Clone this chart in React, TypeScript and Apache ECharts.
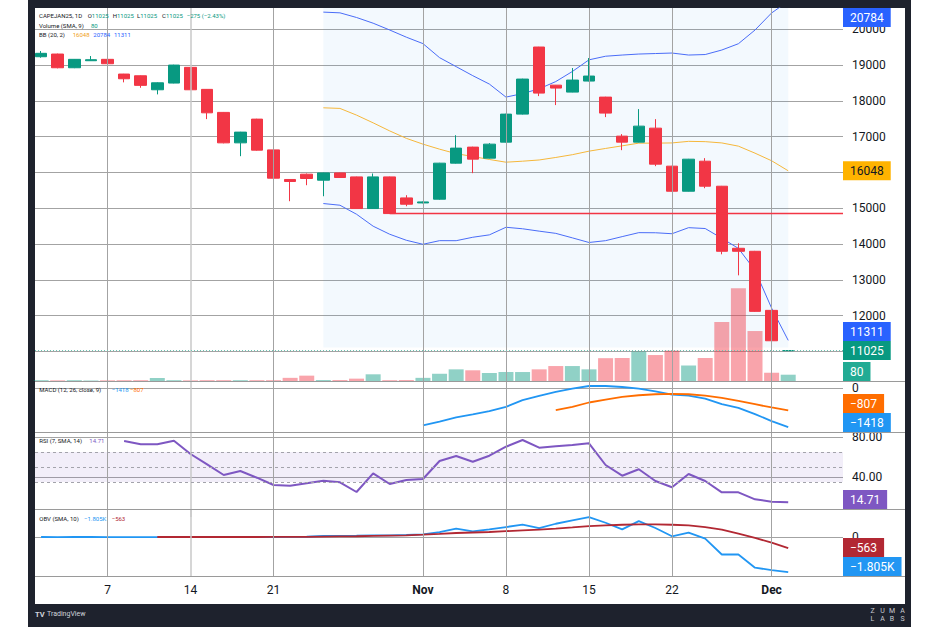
import React, { useEffect, useRef } from "react";
import * as echarts from "echarts";

// ---------- data ----------
const dates = [
  "2024-10-01", "2024-10-02", "2024-10-03", "2024-10-04",
  "2024-10-07", "2024-10-08", "2024-10-09", "2024-10-10", "2024-10-11",
  "2024-10-14", "2024-10-15", "2024-10-16", "2024-10-17", "2024-10-18",
  "2024-10-21", "2024-10-22", "2024-10-23", "2024-10-24", "2024-10-25",
  "2024-10-28", "2024-10-29", "2024-10-30", "2024-10-31", "2024-11-01",
  "2024-11-04", "2024-11-05", "2024-11-06", "2024-11-07", "2024-11-08",
  "2024-11-11", "2024-11-12", "2024-11-13", "2024-11-14", "2024-11-15",
  "2024-11-18", "2024-11-19", "2024-11-20", "2024-11-21", "2024-11-22",
  "2024-11-25", "2024-11-26", "2024-11-27", "2024-11-28", "2024-11-29",
  "2024-12-02", "2024-12-03",
];
const opens = [19234, 19309, 18926, 19122, 19161, 18750, 18702, 18311, 18498, 18937, 18322, 17679, 16828, 17491, 16632, 15805, 15953, 15785, 15989, 15877, 14993, 15877, 15290, 15150, 15254, 16261, 16709, 16401, 16848, 17631, 19505, 18440, 18246, 18554, 18106, 17016, 16848, 17239, 16177, 15477, 16316, 15617, 13883, 13799, 12149, 11025];
const closes = [19329, 18926, 19161, 19150, 19038, 18618, 18434, 18506, 19001, 18311, 17667, 16828, 17128, 16624, 15841, 15749, 15832, 15989, 15860, 14993, 15877, 14853, 15114, 15178, 16261, 16681, 16373, 16792, 17631, 18610, 18218, 18358, 18582, 18694, 17659, 16848, 17295, 16233, 15477, 16372, 15617, 13799, 13799, 12121, 11300, 11025];
const lows = [19206, 18910, 18915, 19115, 18741, 18518, 18367, 18182, 18490, 18300, 17491, 16815, 16456, 16610, 15830, 15198, 15645, 15337, 15850, 14985, 14985, 14840, 15058, 15140, 15240, 16250, 15981, 16390, 16840, 17620, 18134, 17883, 18240, 18545, 17547, 16624, 16840, 16177, 15470, 15470, 15561, 13715, 13128, 12110, 11114, 11025];
const highs = [19393, 19320, 19170, 19253, 19165, 18755, 18710, 18518, 19010, 18945, 18330, 17690, 17136, 17500, 16640, 15812, 15972, 15995, 15995, 15885, 15972, 15885, 15366, 15190, 16270, 17041, 16720, 16820, 17640, 18620, 19510, 18445, 18918, 19197, 18115, 17072, 17771, 17491, 16185, 16380, 16401, 15625, 14023, 13810, 12160, 11025];
const volumes = [10, 8, 10, 6, 8, 8, 10, 38, 10, 8, 10, 10, 10, 10, 10, 40, 68, 12, 12, 30, 85, 10, 12, 40, 92, 148, 136, 102, 114, 114, 148, 190, 190, 148, 290, 292, 375, 330, 387, 197, 292, 750, 1180, 635, 105, 80];

const bbStart = 17;
const bbUpper = [20480, 20460, 20330, 20170, 19980, 19780, 19600, 19208, 18957, 18705, 18470, 18106, 18204, 18338, 18540, 18822, 19147, 19248, 19281, 19309, 19323, 19337, 19281, 19295, 19421, 19597, 19980, 20456, 20784];
const bbBasis = [17807, 17790, 17603, 17387, 17161, 16954, 16792, 16652, 16526, 16448, 16364, 16288, 16316, 16350, 16420, 16498, 16596, 16672, 16745, 16820, 16820, 16826, 16870, 16862, 16826, 16736, 16540, 16328, 16048];
const bbLower = [15133, 15086, 14834, 14500, 14275, 14107, 13995, 14096, 14095, 14191, 14258, 14470, 14428, 14362, 14300, 14174, 14045, 14096, 14209, 14320, 14317, 14290, 14459, 14435, 14163, 13880, 13268, 12212, 11311];

const macdStart = 23;
const macdLine = [-1362, -1216, -1067, -958, -837, -680, -436, -280, -134, -11, 84, 84, 47, -11, -109, -230, -267, -376, -582, -716, -945, -1200, -1418];
const signalStart = 31;
const signalLine = [-800, -680, -520, -412, -316, -255, -218, -207, -218, -266, -353, -462, -582, -702, -807];

const rsiStart = 5;
const rsiValues = [76, 72.7, 72.7, 76.3, 63, 52.7, 42, 46, 39.3, 32, 31.3, 33.7, 36.3, 34.7, 25, 43.7, 33, 37, 38, 56, 61, 55.3, 61.3, 70.3, 77, 69.3, 70.7, 72, 73.7, 52, 41.3, 47.7, 36, 29.7, 43, 36, 24.7, 24.7, 17.7, 15.3, 14.71];
const rsiBands = [65, 50, 35];

const obvValues = [15, 12, 16, 18, 14, 12, 8, 14, 18, 15, 12, 10, 14, 12, 10, 20, 30, 70, 75, 80, 100, 100, 120, 155, 275, 447, 310, 413, 533, 654, 482, 705, 877, 1050, 757, 413, 843, 482, 52, 241, -69, -894, -894, -1582, -1703, -1805];
const obvSmaStart = 7;
const obvSma = [15, 15, 15, 15, 16, 16, 16, 18, 20, 25, 35, 45, 55, 70, 85, 100, 138, 180, 224, 250, 275, 318, 361, 404, 447, 515, 585, 620, 654, 670, 670, 654, 620, 533, 396, 190, -34, -275, -563];

const tickDates = ["2024-10-07", "2024-10-14", "2024-10-21", "2024-11-01", "2024-11-08", "2024-11-15", "2024-11-22", "2024-12-02"];
const tickLabels = ["7", "14", "21", "Nov", "8", "15", "22", "Dec"];
const monthLabels = ["Nov", "Dec"];

const priceTicks = [11000, 12000, 13000, 14000, 15000, 16000, 17000, 18000, 19000, 20000];
const macdTicks = [0];
const rsiTicks = [40, 80];
const obvTicks = [0];

const rayFromDate = "2024-10-30";
const shadeFromDate = "2024-10-24";
const shadeToDate = "2024-12-03";
const shadeLow = 11114;

// ---------- style ----------
const UP = "#089981";
const DOWN = "#f23645";
const VOL_UP = "rgba(8,153,129,0.45)";
const VOL_DOWN = "rgba(242,54,69,0.45)";
const GRID = "#a3a3a3";
const SEP = "#9a9a9a";
const TEXT = "#131722";
const FONT = "Roboto, 'Noto Sans', sans-serif";
const BLUE = "#2962ff";
const BB_MID = "#f5b73b";
const MACD_C = "#2196f3";
const SIG_C = "#ff6d00";
const RSI_C = "#7e57c2";
const OBV_C = "#2196f3";
const OBVSMA_C = "#b22833";

const X_MIN = -0.367;
const X_MAX = 48.3;
const PRICE_MIN = 10176;
const PRICE_MAX = 20595;
const VOL_MAX = 4740;

const fmtSigned = (v: number, d = 0) => (v < 0 ? "\u2212" : "") + Math.abs(v).toFixed(d);
const fmtK = (v: number) => (v < 0 ? "\u2212" : "") + (Math.abs(v) / 1000).toFixed(3) + "K";

const idxOf = (d: string) => dates.indexOf(d);
const tickIdx = tickDates.map(idxOf);
const last = (a: number[]) => a[a.length - 1];

function verticalLines() {
  return tickIdx.map((i, k) => ({
    xAxis: i,
    lineStyle: k === 1 ? { color: "#c9c9c9", width: 1.5, type: "solid" } : { color: GRID, width: 1, type: "solid" },
  }));
}
const markLineBase = { symbol: ["none", "none"], silent: true, animation: false, label: { show: false } };

function labelFormatter(ticks: number[], hidden: number[], fmt: (v: number) => string) {
  return (v: number) => (ticks.includes(v) && !hidden.includes(v) ? fmt(v) : "");
}

function buildOption(): any {
  const axisLbl = { color: TEXT, fontSize: 12, fontFamily: FONT, margin: 9 };
  const xBase = { type: "value", min: X_MIN, max: X_MAX };
  const candleData = dates.map((_, i) => {
    const item: any = { value: [i, opens[i], closes[i], lows[i], highs[i]] };
    if (closes[i] === opens[i]) {
      item.itemStyle = { color: UP, color0: UP, borderColor: UP, borderColor0: UP, borderColorDoji: UP };
    }
    return item;
  });
  const volData = dates.map((_, i) => ({
    value: [i, volumes[i]],
    itemStyle: { color: closes[i] >= opens[i] ? VOL_UP : VOL_DOWN },
  }));
  const seq = (start: number, arr: number[]) => arr.map((v, k) => [start + k, v]);
  const rayIdx = idxOf(rayFromDate);
  const rayLevel = closes[rayIdx];
  const lastClose = last(closes);
  const shadeTop = Math.min(Math.max(...bbUpper), PRICE_MAX);
  const split = { show: true, showMinLine: false, showMaxLine: false, lineStyle: { color: GRID, width: 1 } };

  return {
    animation: false,
    grid: [
      { left: 35, top: 8, width: 808, height: 373 },
      { left: 35, top: 381, width: 808, height: 51 },
      { left: 35, top: 432, width: 808, height: 85 },
      { left: 35, top: 509, width: 808, height: 67 },
    ],
    xAxis: [
      { ...xBase, gridIndex: 0, show: false },
      { ...xBase, gridIndex: 1, show: false },
      { ...xBase, gridIndex: 2, show: false },
      {
        ...xBase,
        gridIndex: 3,
        splitNumber: 50,
        axisLine: { show: false },
        axisTick: { show: false },
        splitLine: { show: false },
        axisLabel: {
          color: TEXT,
          fontSize: 12,
          fontFamily: FONT,
          margin: 8,
          formatter: (v: number) => {
            if (Math.abs(v - Math.round(v)) > 1e-6) return "";
            const k = tickIdx.indexOf(Math.round(v));
            if (k < 0) return "";
            const l = tickLabels[k];
            return monthLabels.includes(l) ? "{b|" + l + "}" : l;
          },
          rich: { b: { fontWeight: "bold", fontSize: 12, color: TEXT, fontFamily: FONT } },
        },
      },
    ],
    yAxis: [
      {
        gridIndex: 0, type: "value", position: "right", min: PRICE_MIN, max: PRICE_MAX, splitNumber: 10,
        axisLine: { show: false }, axisTick: { show: false },
        axisLabel: { ...axisLbl, formatter: labelFormatter(priceTicks, [], (v) => String(v)) },
        splitLine: split,
      },
      { gridIndex: 0, type: "value", min: 0, max: VOL_MAX, show: false, splitLine: { show: false } },
      {
        gridIndex: 1, type: "value", position: "right", min: -1600, max: 267, splitNumber: 1,
        axisLine: { show: false }, axisTick: { show: false },
        axisLabel: { ...axisLbl, formatter: labelFormatter(macdTicks, [], (v) => String(v)) },
        splitLine: split,
      },
      {
        gridIndex: 2, type: "value", position: "right", min: 0, max: 85, interval: 40,
        axisLine: { show: false }, axisTick: { show: false },
        axisLabel: { ...axisLbl, formatter: labelFormatter(rsiTicks, [], (v) => v.toFixed(2)) },
        splitLine: split,
      },
      {
        gridIndex: 3, type: "value", position: "right", min: -2012, max: 1472, splitNumber: 1,
        axisLine: { show: false }, axisTick: { show: false },
        axisLabel: { ...axisLbl, formatter: labelFormatter(obvTicks, [], (v) => String(v)) },
        splitLine: split,
      },
    ],
    series: [
      {
        type: "bar", name: "Volume", xAxisIndex: 0, yAxisIndex: 1, data: volData, barWidth: 15, z: 1,
        markLine: { ...markLineBase, data: verticalLines() },
      },
      {
        type: "candlestick", name: "CAPEJAN25", xAxisIndex: 0, yAxisIndex: 0, z: 4,
        encode: { x: 0, y: [1, 2, 3, 4] },
        data: candleData,
        barWidth: 12,
        itemStyle: { color: UP, color0: DOWN, borderColor: UP, borderColor0: DOWN, borderWidth: 1 },
        markLine: {
          ...markLineBase,
          data: [
            [
              { coord: [rayIdx, rayLevel], lineStyle: { color: DOWN, width: 1.3, type: "solid" } },
              { coord: [X_MAX, rayLevel] },
            ],
            { yAxis: lastClose, lineStyle: { color: "#6cc7b5", width: 1, type: [1, 2] } },
          ],
        },
        markArea: {
          silent: true,
          itemStyle: { color: "rgba(33,150,243,0.055)" },
          data: [[{ coord: [idxOf(shadeFromDate), shadeTop] }, { coord: [idxOf(shadeToDate), shadeLow] }]],
        },
      },
      { type: "line", name: "BB upper", xAxisIndex: 0, yAxisIndex: 0, z: 3, showSymbol: false, data: seq(bbStart, bbUpper), lineStyle: { color: "#4a6cf7", width: 1 } },
      { type: "line", name: "BB basis", xAxisIndex: 0, yAxisIndex: 0, z: 3, showSymbol: false, data: seq(bbStart, bbBasis), lineStyle: { color: BB_MID, width: 1 } },
      { type: "line", name: "BB lower", xAxisIndex: 0, yAxisIndex: 0, z: 3, showSymbol: false, data: seq(bbStart, bbLower), lineStyle: { color: "#4a6cf7", width: 1 } },
      {
        type: "line", name: "MACD", xAxisIndex: 1, yAxisIndex: 2, showSymbol: false, data: seq(macdStart, macdLine),
        lineStyle: { color: MACD_C, width: 1.8 },
        markLine: { ...markLineBase, data: verticalLines() },
      },
      { type: "line", name: "Signal", xAxisIndex: 1, yAxisIndex: 2, showSymbol: false, data: seq(signalStart, signalLine), lineStyle: { color: SIG_C, width: 1.8 } },
      {
        type: "line", name: "RSI", xAxisIndex: 2, yAxisIndex: 3, showSymbol: false, data: seq(rsiStart, rsiValues), z: 4,
        lineStyle: { color: RSI_C, width: 2 },
        markLine: {
          ...markLineBase,
          data: [
            ...verticalLines(),
            ...rsiBands.map((b) => ({ yAxis: b, lineStyle: { color: "#a3a3ab", width: 1, type: [3, 3] } })),
          ],
        },
        markArea: {
          silent: true,
          itemStyle: { color: "rgba(126,87,194,0.1)" },
          data: [[{ yAxis: rsiBands[0] }, { yAxis: rsiBands[2] }]],
        },
      },
      {
        type: "line", name: "OBV", xAxisIndex: 3, yAxisIndex: 4, showSymbol: false, data: seq(0, obvValues),
        lineStyle: { color: OBV_C, width: 1.8 },
        markLine: { ...markLineBase, data: verticalLines() },
      },
      { type: "line", name: "OBV SMA", xAxisIndex: 3, yAxisIndex: 4, showSymbol: false, data: seq(obvSmaStart, obvSma), lineStyle: { color: OBVSMA_C, width: 1.8 }, z: 3 },
    ],
  };
}

function txt(text: string, x: number, y: number, fill: string, size: number, extra: any = {}) {
  return {
    type: "text", x, y, z: 60, silent: true,
    style: {
      text, fill, fontSize: size, fontFamily: FONT,
      align: "left", verticalAlign: "middle", textAlign: "left", textVerticalAlign: "middle",
      ...extra,
    },
  };
}

function buildOverlay(chart: any): { els: any[]; hidden: number[][] } {
  const els: any[] = [];
  [381, 432, 509, 576].forEach((y) =>
    els.push({ type: "line", z: 50, silent: true, shape: { x1: 35, y1: y + 0.5, x2: 905, y2: y + 0.5 }, style: { stroke: SEP, lineWidth: 1 } })
  );

  const n = closes.length;
  const chg = closes[n - 1] - closes[n - 2];
  const pct = (chg / closes[n - 2]) * 100;
  const o = String(last(opens)), h = String(last(highs)), l = String(last(lows)), c = String(last(closes));
  const lc = closes[n - 1] >= opens[n - 1] ? UP : DOWN;
  const F = 6;
  const rich = (a: string, b: string, col: string, x: number, y: number) =>
    ({ ...txt(`{d|${a}}{v|${b}}`, x, y, TEXT, F, { rich: { d: { fill: TEXT, fontSize: F, fontFamily: FONT }, v: { fill: col, fontSize: F, fontFamily: FONT } } }) });

  // legend rows
  els.push(txt("CAPEJAN25, 1D", 39, 15.7, TEXT, F));
  els.push(rich("O", o, lc, 87.7, 15.7));
  els.push(rich("H", h, lc, 112.7, 15.7));
  els.push(rich("L", l, lc, 137, 15.7));
  els.push(rich("C", c, lc, 162, 15.7));
  els.push(txt(`${fmtSigned(chg)} (${fmtSigned(pct, 2)}%)`, 186.7, 15.7, lc, F));
  els.push(txt("Volume (SMA, 9)", 39, 25, TEXT, F));
  els.push(txt(String(last(volumes)), 91, 25, lc, F));
  els.push(txt("BB (20, 2)", 39, 34.3, TEXT, F));
  els.push(txt(String(last(bbBasis)), 72.7, 34.3, "#f0a020", F));
  els.push(txt(String(last(bbUpper)), 93.3, 34.3, BLUE, F));
  els.push(txt(String(last(bbLower)), 114, 34.3, BLUE, F));

  els.push(txt("MACD (12, 26, close, 9)", 39.3, 389, TEXT, F));
  els.push(txt(fmtSigned(last(macdLine)), 111.7, 389, MACD_C, F));
  els.push(txt(fmtSigned(last(signalLine)), 130, 389, SIG_C, F));

  els.push(txt("RSI (7, SMA, 14)", 39.3, 440.7, TEXT, F));
  els.push(txt(last(rsiValues).toFixed(2), 89.3, 440.7, RSI_C, F));

  els.push(txt("OBV (SMA, 10)", 39.3, 518, TEXT, F));
  els.push(txt(fmtK(last(obvValues)), 84, 518, OBV_C, F));
  els.push(txt(fmtSigned(last(obvSma)), 111.7, 518, OBVSMA_C, F));

  // bottom band
  els.push(txt("TV", 35, 614, "#d1d4dc", 7.5, { fontWeight: "bold" }));
  els.push(txt("TradingView", 47, 614, "#d1d4dc", 7));
  const zl = ["Z", "U", "M", "A"], lb = ["L", "A", "B", "S"];
  const lx = [872.5, 882.5, 892, 902.5];
  zl.forEach((ch, k) => els.push(txt(ch, lx[k], 611, "#c9cbd1", 7, { align: "center", textAlign: "center" })));
  lb.forEach((ch, k) => els.push(txt(ch, lx[k], 618.5, "#c9cbd1", 7, { align: "center", textAlign: "center" })));

  // price-scale badges
  const H = 19;
  const panes = [
    {
      top: 8, bottom: 381, axis: 0, ticks: priceTicks, badges: [
        { axis: 0, value: last(bbUpper), text: String(last(bbUpper)), bg: BLUE, fg: "#ffffff" },
        { axis: 0, value: last(bbBasis), text: String(last(bbBasis)), bg: "#ffb300", fg: TEXT },
        { axis: 0, value: last(bbLower), text: String(last(bbLower)), bg: BLUE, fg: "#ffffff" },
        { axis: 0, value: last(closes), text: String(last(closes)), bg: UP, fg: "#ffffff" },
        { axis: 1, value: last(volumes), text: String(last(volumes)), bg: "#22ab94", fg: "#ffffff" },
      ],
    },
    {
      top: 381, bottom: 432, axis: 2, ticks: macdTicks, badges: [
        { axis: 2, value: last(signalLine), text: fmtSigned(last(signalLine)), bg: SIG_C, fg: "#ffffff" },
        { axis: 2, value: last(macdLine), text: fmtSigned(last(macdLine)), bg: MACD_C, fg: "#ffffff" },
      ],
    },
    {
      top: 432, bottom: 509, axis: 3, ticks: rsiTicks, badges: [
        { axis: 3, value: last(rsiValues), text: last(rsiValues).toFixed(2), bg: RSI_C, fg: "#ffffff" },
      ],
    },
    {
      top: 509, bottom: 576, axis: 4, ticks: obvTicks, badges: [
        { axis: 4, value: last(obvSma), text: fmtSigned(last(obvSma)), bg: OBVSMA_C, fg: "#ffffff" },
        { axis: 4, value: last(obvValues), text: fmtK(last(obvValues)), bg: OBV_C, fg: "#ffffff" },
      ],
    },
  ];
  const hidden: number[][] = [];
  panes.forEach((p) => {
    const bs = p.badges.map((b) => {
      const raw = chart.convertToPixel({ yAxisIndex: b.axis }, b.value) as number;
      return { ...b, y: Math.min(Math.max(raw, p.top + H / 2), p.bottom - H / 2) };
    });
    bs.sort((a, b) => a.y - b.y);
    for (let i = bs.length - 2; i >= 0; i--) if (bs[i].y > bs[i + 1].y - H) bs[i].y = bs[i + 1].y - H;
    for (let i = 0; i < bs.length; i++) {
      const lo = i === 0 ? p.top + H / 2 : bs[i - 1].y + H;
      if (bs[i].y < lo) bs[i].y = lo;
    }
    // axis labels that would sit fully under a badge are hidden (as on the reference)
    hidden[p.axis] = p.ticks.filter((t) => {
      const ty = chart.convertToPixel({ yAxisIndex: p.axis }, t) as number;
      return bs.some((b) => Math.abs(b.y - ty) < 8);
    });
    bs.forEach((b) =>
      els.push({
        type: "text", x: 843, y: b.y, z: 90, silent: true,
        style: {
          text: b.text, fill: b.fg, backgroundColor: b.bg, padding: [3, 7, 3, 7],
          fontSize: 12, fontFamily: FONT, lineHeight: 13,
          align: "left", verticalAlign: "middle", textAlign: "left", textVerticalAlign: "middle",
        },
      })
    );
  });
  return { els, hidden };
}

export default function App() {
  const ref = useRef<HTMLDivElement>(null);
  useEffect(() => {
    const el = ref.current;
    if (!el) return;
    const chart = echarts.init(el, undefined, { renderer: "svg" });
    chart.setOption(buildOption());
    const { els, hidden } = buildOverlay(chart);
    chart.setOption({
      yAxis: [
        { axisLabel: { formatter: labelFormatter(priceTicks, hidden[0] || [], (v) => String(v)) } },
        {},
        { axisLabel: { formatter: labelFormatter(macdTicks, hidden[2] || [], (v) => String(v)) } },
        { axisLabel: { formatter: labelFormatter(rsiTicks, hidden[3] || [], (v) => v.toFixed(2)) } },
        { axisLabel: { formatter: labelFormatter(obvTicks, hidden[4] || [], (v) => String(v)) } },
      ],
      graphic: { elements: els },
    });
    return () => chart.dispose();
  }, []);
  return (
    <div style={{ position: "fixed", left: 0, top: 0, width: 940, height: 627, background: "#ffffff" }}>
      <div style={{ position: "absolute", left: 28, top: 0, width: 883, height: 627, background: "#1e222d" }} />
      <div style={{ position: "absolute", left: 35, top: 8, width: 870, height: 596, background: "#ffffff" }} />
      <div ref={ref} style={{ position: "absolute", left: 0, top: 0, width: 940, height: 627 }} />
    </div>
  );
}
